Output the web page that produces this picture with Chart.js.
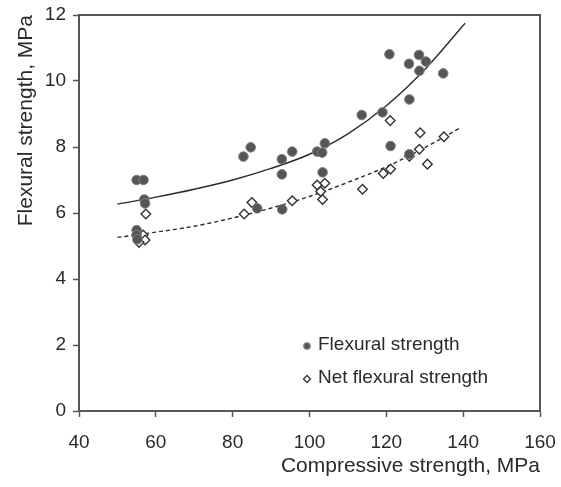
<!DOCTYPE html>
<html lang="en">
<head>
    <meta charset="UTF-8">
    <title>Flexural vs Compressive Strength</title>
    <script src="https://cdn.jsdelivr.net/npm/chart.js"></script>
    <style>
        html, body {
            margin: 0;
            padding: 0;
            background: #ffffff;
        }
        .chart-container {
            width: 561px;
            height: 487px;
        }
    </style>
</head>
<body>
    <div class="chart-container">
        <canvas id="strengthChart"></canvas>
    </div>

    <script>
        const flexX = [55, 56.8, 57, 57.2, 55, 55, 55.2, 82.8, 84.7, 86.4, 92.8, 95.5, 92.8, 92.9, 102, 103.3, 104, 103.4,
                       113.6, 119, 121.1, 126, 120.8, 125.9, 128.5, 130.3, 128.6, 134.8, 126];
        const flexY = [7.0, 7.0, 6.41, 6.29, 5.48, 5.33, 5.2, 7.71, 7.99, 6.14, 7.63, 7.86, 7.17, 6.11, 7.86, 7.83, 8.11, 7.23,
                       8.97, 9.05, 8.03, 7.78, 10.81, 10.52, 10.79, 10.59, 10.31, 10.23, 9.44];

        const netX = [57.4, 56.7, 57.2, 55.6, 83, 85, 95.5, 102, 104, 102.9, 103.4, 113.8, 119.2, 121.1, 121, 128.8,
                      128.6, 130.7, 135, 126];
        const netY = [5.97, 5.33, 5.18, 5.11, 5.97, 6.32, 6.37, 6.85, 6.9, 6.65, 6.41, 6.72, 7.2, 7.33, 8.8, 8.43,
                      7.93, 7.48, 8.31, 7.72];

        // trend curves
        const fitFlexX = [50, 60, 70, 80, 90, 100, 110, 120, 130, 140.5];
        const fitFlexY = [6.27, 6.48, 6.72, 7.0, 7.35, 7.78, 8.4, 9.25, 10.35, 11.75];
        const fitNetX = [50, 60, 70, 80, 90, 100, 110, 120, 130, 139.5];
        const fitNetY = [5.26, 5.42, 5.6, 5.85, 6.15, 6.5, 6.93, 7.4, 7.98, 8.6];

        const seriesNames = ['Flexural strength', 'Net flexural strength'];
        const xTitle = 'Compressive strength, MPa';
        const yTitle = 'Flexural strength, MPa';

        const toPoints = (xs, ys) => xs.map((x, i) => ({ x: x, y: ys[i] }));

        const axisColor = '#555555';
        const textColor = '#2a2a2a';
        const fontFamily = "'Liberation Sans', Arial, sans-serif";

        // frame on top and right of the plot
        const framePlugin = {
            id: 'frame',
            beforeDatasetsDraw(chart) {
                const { ctx, chartArea } = chart;
                ctx.save();
                ctx.strokeStyle = axisColor;
                ctx.lineWidth = 2;
                ctx.beginPath();
                ctx.moveTo(chartArea.left, chartArea.top);
                ctx.lineTo(chartArea.right, chartArea.top);
                ctx.lineTo(chartArea.right, chartArea.bottom);
                ctx.stroke();
                ctx.restore();
            }
        };

        // legend drawn inside the plot area
        const innerLegend = {
            id: 'innerLegend',
            afterDraw(chart) {
                const { ctx, chartArea } = chart;
                const x0 = chartArea.left + 228;
                const y0 = chartArea.top + 331;
                ctx.save();
                ctx.font = '19px ' + fontFamily;
                ctx.fillStyle = textColor;
                ctx.textBaseline = 'middle';
                seriesNames.forEach((name, i) => {
                    const y = y0 + i * 33;
                    const ds = chart.data.datasets[i];
                    ctx.save();
                    ctx.lineWidth = 1.3;
                    ctx.strokeStyle = ds.borderColor;
                    ctx.fillStyle = ds.backgroundColor;
                    ctx.beginPath();
                    if (i === 0) {
                        ctx.arc(x0, y, 3.2, 0, Math.PI * 2);
                    } else {
                        ctx.moveTo(x0, y - 3.5);
                        ctx.lineTo(x0 + 3.5, y);
                        ctx.lineTo(x0, y + 3.5);
                        ctx.lineTo(x0 - 3.5, y);
                        ctx.closePath();
                    }
                    ctx.fill();
                    ctx.stroke();
                    ctx.restore();
                    ctx.fillText(name, x0 + 11, y - 1);
                });
                ctx.restore();
            }
        };

        const config = {
            type: 'scatter',
            data: {
                datasets: [
                    {
                        label: seriesNames[0],
                        data: toPoints(flexX, flexY),
                        pointStyle: 'circle',
                        pointRadius: 4.8,
                        backgroundColor: '#555555',
                        borderColor: '#808080',
                        borderWidth: 1,
                        order: 0
                    },
                    {
                        label: seriesNames[1],
                        data: toPoints(netX, netY),
                        pointStyle: 'rectRot',
                        pointRadius: 4.8,
                        backgroundColor: '#ffffff',
                        borderColor: '#333333',
                        borderWidth: 1.4,
                        order: 0
                    },
                    {
                        label: 'fit flexural',
                        data: toPoints(fitFlexX, fitFlexY),
                        showLine: true,
                        pointRadius: 0,
                        borderColor: '#2b2b2b',
                        borderWidth: 1.4,
                        cubicInterpolationMode: 'monotone',
                        order: 1
                    },
                    {
                        label: 'fit net',
                        data: toPoints(fitNetX, fitNetY),
                        showLine: true,
                        pointRadius: 0,
                        borderColor: '#2b2b2b',
                        borderWidth: 1.4,
                        borderDash: [4, 3],
                        cubicInterpolationMode: 'monotone',
                        order: 1
                    }
                ]
            },
            options: {
                responsive: true,
                maintainAspectRatio: false,
                animation: false,
                layout: {
                    padding: { top: 15, right: 21, left: 0, bottom: 0 }
                },
                plugins: {
                    legend: { display: false },
                    tooltip: { enabled: false }
                },
                scales: {
                    x: {
                        type: 'linear',
                        min: 40,
                        max: 160,
                        afterFit: (scale) => {
                            scale.height = 76;
                            scale.paddingLeft = 0;
                            scale.paddingRight = 0;
                        },
                        ticks: {
                            stepSize: 20,
                            color: textColor,
                            padding: 14,
                            maxRotation: 0,
                            font: { family: fontFamily, size: 19 }
                        },
                        grid: {
                            drawOnChartArea: false,
                            tickLength: 6,
                            tickWidth: 1.5,
                            tickColor: axisColor
                        },
                        border: { display: true, color: axisColor, width: 2 },
                        title: {
                            display: true,
                            text: xTitle,
                            align: 'end',
                            color: textColor,
                            padding: { bottom: 8 },
                            font: { family: fontFamily, size: 21 }
                        }
                    },
                    y: {
                        type: 'linear',
                        min: 0,
                        max: 12,
                        afterFit: (scale) => {
                            scale.width = 79;
                            scale.paddingTop = 0;
                            scale.paddingBottom = 0;
                        },
                        ticks: {
                            stepSize: 2,
                            color: textColor,
                            padding: 7,
                            font: { family: fontFamily, size: 19 }
                        },
                        grid: {
                            drawOnChartArea: false,
                            tickLength: 6,
                            tickWidth: 1.5,
                            tickColor: axisColor
                        },
                        border: { display: true, color: axisColor, width: 2 },
                        title: {
                            display: true,
                            text: yTitle,
                            align: 'end',
                            color: textColor,
                            padding: { top: 14 },
                            font: { family: fontFamily, size: 21 }
                        }
                    }
                }
            },
            plugins: [framePlugin, innerLegend]
        };

        const ctx = document.getElementById('strengthChart').getContext('2d');
        const strengthChart = new Chart(ctx, config);
    </script>
</body>
</html>
